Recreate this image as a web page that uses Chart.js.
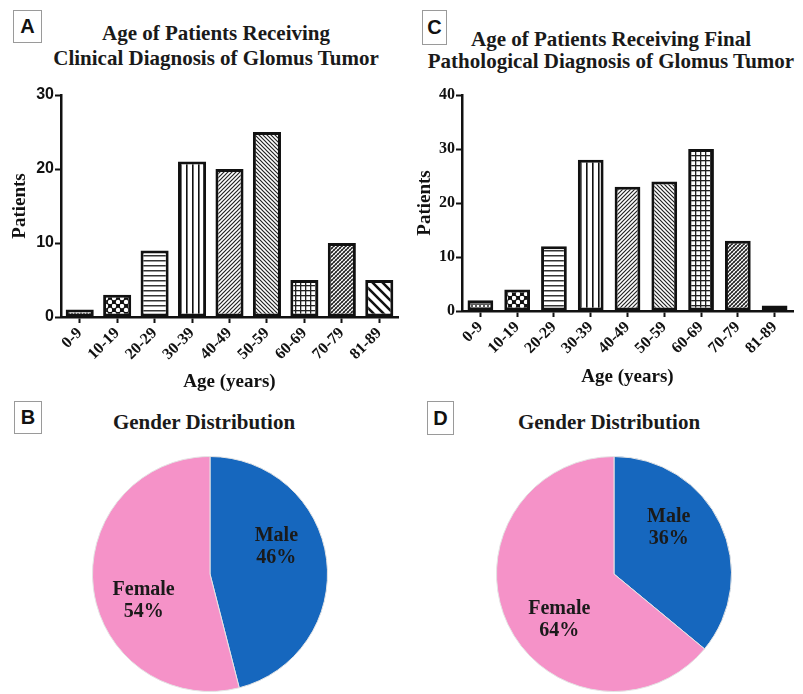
<!DOCTYPE html>
<html>
<head>
<meta charset="utf-8">
<script src="https://cdn.jsdelivr.net/npm/chart.js@4"></script>
<style>
  body { margin: 0; background: #fff; }
  #page { position: relative; width: 803px; height: 694px; overflow: hidden; }
  .panel { position: absolute; }
  .tag {
    position: absolute; box-sizing: border-box; border: 1.5px solid #9a9a9a;
    font: bold 20px "Liberation Sans", Arial, sans-serif; color: #111;
    display: flex; align-items: center; justify-content: center;
  }
  .title {
    position: absolute; font: bold 21px "Liberation Serif", "Times New Roman", serif;
    color: #1a1a1a; text-align: center; white-space: nowrap;
  }
</style>
</head>
<body>
<div id="page">
  <div class="tag" style="left:13px;top:10px;width:29px;height:33px">A</div>
  <div class="title" style="left:0;top:21px;width:432px;line-height:25px">Age of Patients Receiving<br>Clinical Diagnosis of Glomus Tumor</div>
  <div class="panel" style="left:0;top:0;width:400px;height:395px"><canvas id="chartA"></canvas></div>

  <div class="tag" style="left:422px;top:10px;width:25px;height:35px">C</div>
  <div class="title" style="left:411px;top:28px;width:400px;line-height:22px">Age of Patients Receiving Final<br>Pathological Diagnosis of Glomus Tumor</div>
  <div class="panel" style="left:400px;top:0;width:403px;height:395px"><canvas id="chartC"></canvas></div>

  <div class="tag" style="left:14px;top:401px;width:28px;height:33px">B</div>
  <div class="title" style="left:4px;top:410px;width:400px;line-height:25px">Gender Distribution</div>
  <div class="panel" style="left:0;top:395px;width:400px;height:299px"><canvas id="chartB"></canvas></div>

  <div class="tag" style="left:427px;top:401px;width:27px;height:34px">D</div>
  <div class="title" style="left:409px;top:410px;width:400px;line-height:25px">Gender Distribution</div>
  <div class="panel" style="left:403px;top:395px;width:400px;height:299px"><canvas id="chartD"></canvas></div>
</div>
<script>
const ageGroups = ["0-9", "10-19", "20-29", "30-39", "40-49", "50-59", "60-69", "70-79", "81-89"];
const clinicalCounts = [1, 3, 9, 21, 20, 25, 5, 10, 5];
const pathologicalCounts = [2, 4, 12, 28, 23, 24, 30, 13, 1];
const clinicalTicks = [0, 10, 20, 30];
const pathologicalTicks = [0, 10, 20, 30, 40];
const genderLabels = ["Male", "Female"];
const clinicalGender = [46, 54];
const pathologicalGender = [36, 64];

const SERIF = '"Liberation Serif", "Times New Roman", serif';
const SANS = '"Liberation Sans", Arial, sans-serif';
const INK = "#111";
const BLUE = "#1667be";
const PINK = "#f592c8";

Chart.defaults.animation = false;

// fill patterns for the bars (black and white figure)
function pattern(kind) {
  const t = document.createElement("canvas");
  const c = t.getContext("2d");
  let w = 6, h = 6;
  if (kind === "hlines") { w = 4; h = 5; }
  if (kind === "vlines") { w = 6; h = 4; }
  if (kind === "polka") { w = 8; h = 8; }
  if (kind === "finedots") { w = 4; h = 4; }
  if (kind === "diagR" || kind === "diagL") { w = 4; h = 4; }
  if (kind === "grid") { w = 5; h = 5; }
  if (kind === "diagCross") { w = 4; h = 4; }
  if (kind === "wideDiagL") { w = 10; h = 10; }
  t.width = w; t.height = h;
  c.fillStyle = "#fff";
  c.fillRect(0, 0, w, h);
  const s = w;
  const slash = () => {
    c.beginPath();
    c.moveTo(0, s); c.lineTo(s, 0);
    c.moveTo(-s / 2, s / 2); c.lineTo(s / 2, -s / 2);
    c.moveTo(s / 2, s * 1.5); c.lineTo(s * 1.5, s / 2);
    c.stroke();
  };
  const back = () => {
    c.beginPath();
    c.moveTo(0, 0); c.lineTo(s, s);
    c.moveTo(-s / 2, s / 2); c.lineTo(s / 2, s * 1.5);
    c.moveTo(s / 2, -s / 2); c.lineTo(s * 1.5, s / 2);
    c.stroke();
  };
  if (kind === "zigzag") {
    c.strokeStyle = "#222"; c.lineWidth = 1.2;
    c.beginPath();
    c.moveTo(0, 1); c.lineTo(1.5, 4); c.lineTo(3, 1); c.lineTo(4.5, 4); c.lineTo(6, 1);
    c.stroke();
  } else if (kind === "finedots") {
    c.fillStyle = "#5a5a5a"; c.fillRect(0, 0, w, h);
    c.fillStyle = "#fff"; c.fillRect(1, 1, 2, 2);
  } else if (kind === "polka") {
    c.fillStyle = "#111"; c.fillRect(0, 0, w, h);
    c.fillStyle = "#fff";
    c.beginPath(); c.arc(2, 2, 2.2, 0, Math.PI * 2); c.fill();
    c.beginPath(); c.arc(6, 6, 2.2, 0, Math.PI * 2); c.fill();
  } else if (kind === "hlines") {
    c.fillStyle = "#333"; c.fillRect(0, 0, w, 1.5);
  } else if (kind === "vlines") {
    c.fillStyle = "#111"; c.fillRect(0, 0, 1.6, h);
  } else if (kind === "diagR") {
    c.strokeStyle = "#222"; c.lineWidth = 1.2; slash();
  } else if (kind === "diagL") {
    c.strokeStyle = "#222"; c.lineWidth = 1.2; back();
  } else if (kind === "grid") {
    c.fillStyle = "#222"; c.fillRect(0, 0, w, 1.3); c.fillRect(0, 0, 1.3, h);
  } else if (kind === "diagCross") {
    c.strokeStyle = "#888"; c.lineWidth = 1; back();
    c.strokeStyle = "#222"; c.lineWidth = 1.3; slash();
  } else if (kind === "wideDiagL") {
    c.strokeStyle = "#111"; c.lineWidth = 2.6; back();
  }
  return document.createElement("canvas").getContext("2d").createPattern(t, "repeat");
}

const clinicalFills = ["zigzag", "polka", "hlines", "vlines", "diagR", "diagL", "grid", "diagCross", "wideDiagL"];
const pathologicalFills = ["finedots", "polka", "hlines", "vlines", "diagR", "diagL", "grid", "diagCross", "wideDiagL"];

function barChart(id, values, ticks, fills, o) {
  return new Chart(document.getElementById(id), {
    type: "bar",
    data: {
      labels: ageGroups,
      datasets: [{
        data: values,
        backgroundColor: fills.map(pattern),
        borderColor: INK,
        borderWidth: 3,
        borderSkipped: false,
        barPercentage: o.barPct,
        categoryPercentage: 1
      }]
    },
    options: {
      responsive: true,
      maintainAspectRatio: false,
      layout: { padding: { top: 95, left: 0, right: o.right, bottom: 0 } },
      plugins: { legend: { display: false }, tooltip: { enabled: false } },
      scales: {
        x: {
          grid: { drawOnChartArea: false, offset: false, tickLength: 6, tickWidth: 2, tickColor: INK },
          border: { display: true, color: INK, width: 2.5 },
          ticks: {
            color: INK, autoSkip: false, minRotation: 45, maxRotation: 45, padding: 1,
            font: { family: SERIF, weight: "bold", size: 16 }
          },
          title: {
            display: true, text: "Age (years)", color: INK,
            font: { family: SERIF, weight: "bold", size: 19 },
            padding: { top: 0, bottom: o.xTitlePad }
          },
          afterFit: s => { s.height = o.xHeight; }
        },
        y: {
          min: ticks[0],
          max: ticks[ticks.length - 1],
          afterBuildTicks: s => { s.ticks = ticks.map(v => ({ value: v })); },
          grid: { drawOnChartArea: false, tickLength: 6, tickWidth: 2, tickColor: INK },
          border: { display: true, color: INK, width: 2.5 },
          ticks: { color: INK, padding: 1, font: { family: o.yFont, weight: "bold", size: 16 } },
          title: {
            display: true, text: "Patients", color: INK,
            font: { family: SERIF, weight: "bold", size: 19 },
            padding: { top: o.yTitlePad, bottom: 0 }
          },
          afterFit: s => { s.width = o.yWidth; }
        }
      }
    }
  });
}

barChart("chartA", clinicalCounts, clinicalTicks, clinicalFills,
  { barPct: 0.75, right: 2, xHeight: 78, yWidth: 61, xTitlePad: 2, yTitlePad: 8.6, yFont: SANS });
barChart("chartC", pathologicalCounts, pathologicalTicks, pathologicalFills,
  { barPct: 0.7, right: 10, xHeight: 84, yWidth: 62, xTitlePad: 6.5, yTitlePad: 13.6, yFont: SERIF });

// pie slice labels: name and percentage inside the slice
const sliceLabels = {
  id: "sliceLabels",
  afterDatasetsDraw(chart) {
    const ctx = chart.ctx;
    const meta = chart.getDatasetMeta(0);
    const data = chart.data.datasets[0].data;
    const total = data.reduce((a, b) => a + b, 0);
    ctx.save();
    ctx.font = "bold 20px " + SERIF;
    ctx.fillStyle = "#1a1a1a";
    ctx.textAlign = "center";
    ctx.textBaseline = "middle";
    meta.data.forEach((arc, i) => {
      const p = arc.getProps(["x", "y", "startAngle", "endAngle", "outerRadius"], true);
      const a = (p.startAngle + p.endAngle) / 2 - 15 * Math.PI / 180;
      const r = p.outerRadius * 0.61;
      const x = p.x + r * Math.cos(a);
      const y = p.y + r * Math.sin(a);
      ctx.fillText(chart.data.labels[i], x, y - 11);
      ctx.fillText(Math.round(data[i] / total * 100) + "%", x, y + 11);
    });
    ctx.restore();
  }
};

function pieChart(id, values, pad) {
  return new Chart(document.getElementById(id), {
    type: "pie",
    data: {
      labels: genderLabels,
      datasets: [{
        data: values,
        backgroundColor: [BLUE, PINK],
        borderColor: "#e4e4e4",
        borderWidth: 1
      }]
    },
    options: {
      responsive: true,
      maintainAspectRatio: false,
      layout: { padding: pad },
      plugins: { legend: { display: false }, tooltip: { enabled: false } }
    },
    plugins: [sliceLabels]
  });
}

pieChart("chartB", clinicalGender, { left: 92, right: 72, top: 61, bottom: 2 });
pieChart("chartD", pathologicalGender, { left: 93, right: 71, top: 61, bottom: 2 });
</script>
</body>
</html>
